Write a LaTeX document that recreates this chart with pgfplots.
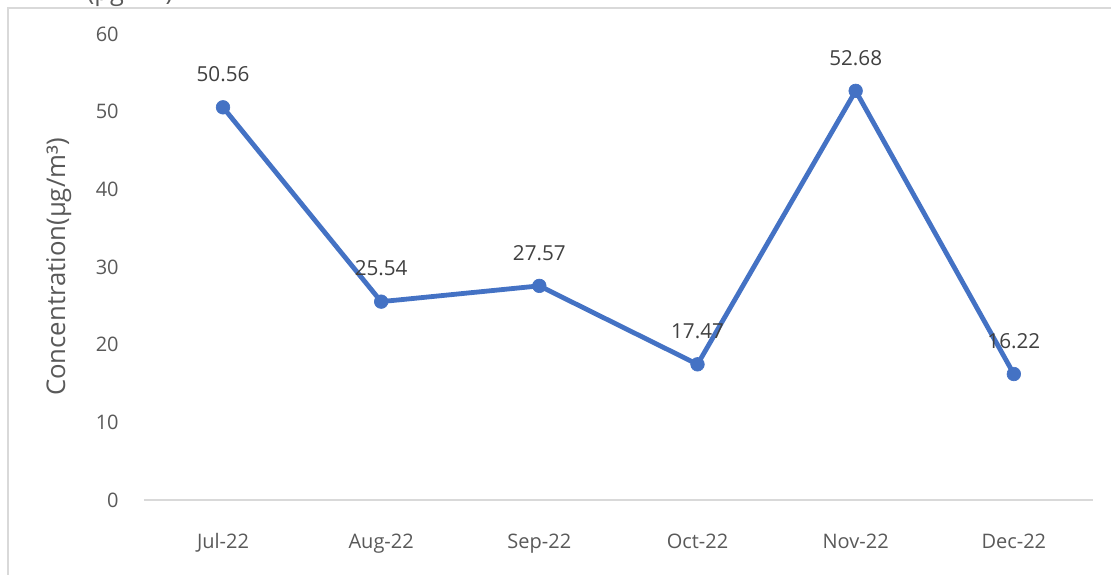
\documentclass[border=0pt]{standalone}
\usepackage{fontspec}
\setmainfont{Open Sans}
\usepackage{pgfplots}
\pgfplotsset{compat=1.18}
\definecolor{lineblue}{HTML}{4472C4}
\definecolor{txtgray}{HTML}{595959}
\definecolor{lblgray}{HTML}{404040}
\definecolor{framegray}{HTML}{D9D9D9}
\begin{document}
\begin{tikzpicture}[x=0.75pt,y=0.75pt]
\useasboundingbox (0,0) rectangle (1111,575);
\draw[framegray, line width=1.5pt] (7.8,0) -- (7.8,567.2) -- (1112,567.2);
\node[anchor=base, text=txtgray, font=\fontsize{19}{22}\selectfont, inner sep=0pt] at (130,574) {(µg/m³)};
\begin{axis}[
  at={(167.25pt,56.25pt)}, anchor=origin,
  scale only axis, width=711.75pt, height=349.5pt,
  xmin=-0.5, xmax=5.5, ymin=0, ymax=60,
  clip=false,
  axis x line*=bottom, axis y line*=left,
  x axis line style={framegray, line width=1pt, -},
  y axis line style={draw=none},
  /pgf/number format/assume math mode=true,
  xtick={0,...,5},
  xticklabels={Jul-22,Aug-22,Sep-22,Oct-22,Nov-22,Dec-22},
  x tick style={draw=none},
  extra x ticks={-0.5,0.5,1.5,2.5,3.5,4.5,5.5},
  extra x tick labels={},
  extra x tick style={tick align=outside, major tick length=4.5pt, tick style={draw=framegray, line width=1pt}},
  ytick={0,10,...,60},
  y tick style={draw=none},
  major tick length=0pt,
  x tick label style={anchor=base, yshift=-36pt, inner sep=0pt, text=txtgray, font=\fontsize{15}{18}\selectfont},
  y tick label style={anchor=east, xshift=-18.75pt, inner sep=0pt, text=txtgray, font=\fontsize{15}{18}\selectfont},
  ylabel={Concentration(µg/m³)},
  every axis y label/.style={at={(axis description cs:-0.0896,0.5)}, rotate=90, anchor=center, text=txtgray, font=\fontsize{19.3}{22}\selectfont},
  point meta=explicit symbolic,
]
\addplot[draw=none, mark=none, nodes near coords,
  nodes near coords style={anchor=center, yshift=24.75pt, inner sep=0pt, text=lblgray, font=\fontsize{15.5}{18}\selectfont}]
  coordinates {(0,50.56)[50.56] (1,25.54)[25.54] (2,27.57)[27.57] (3,17.47)[17.47] (4,52.68)[52.68] (5,16.22)[16.22]};
\addplot[lineblue, line width=3.6pt, line join=round, mark=*, mark size=5.1pt,
  mark options={solid, fill=lineblue, draw=lineblue, line width=0.5pt}]
  coordinates {(0,50.56) (1,25.54) (2,27.57) (3,17.47) (4,52.68) (5,16.22)};
\end{axis}
\end{tikzpicture}
\end{document}
